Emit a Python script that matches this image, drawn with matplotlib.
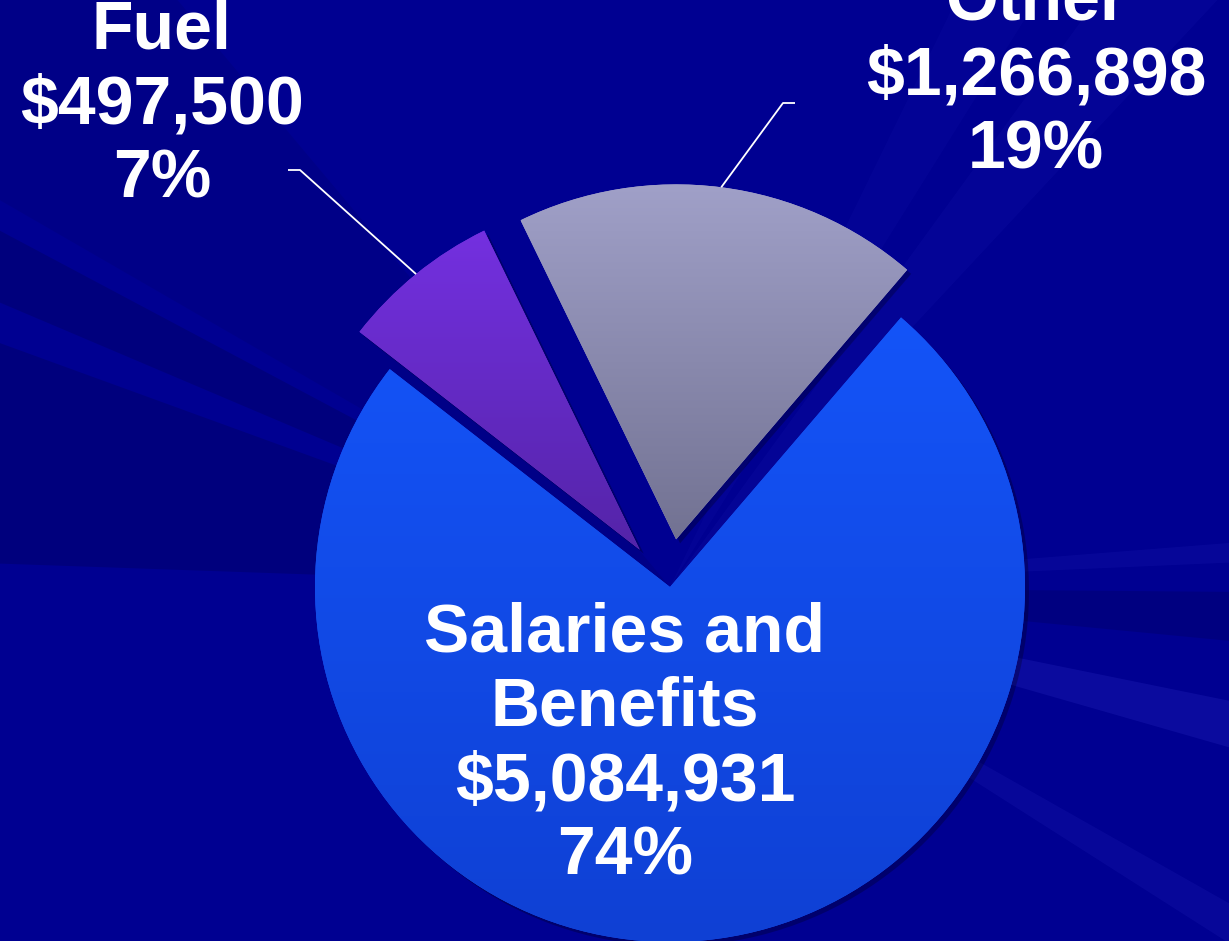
import numpy as np
import matplotlib.pyplot as plt
from matplotlib.patches import Wedge
from matplotlib.colors import LinearSegmentedColormap

W, H = 1229, 941

# budget breakdown (drawn counter-clockwise from the right edge of "Other")
labels = ['Other', 'Fuel', 'Salaries and\nBenefits']
amounts = [1266898, 497500, 5084931]
pcts = [19, 7, 74]
col_top = ['#a0a0c8', '#7430e0', '#1454f8']
col_bot = ['#727292', '#5424a8', '#0f40d4']

BG = '#000091'
cx, cy, R = 670, 354, 355
explode = [48, 48, 0]   # pie() takes the offset in data units here

fig = plt.figure(figsize=(W / 100, H / 100), dpi=100, facecolor=BG)
ax = fig.add_axes([0, 0, 1, 1])
ax.set_facecolor(BG)

# background streaks, faint
streaks = [
    (130, 150, '#000050', 0.15),
    (152, 157, '#000050', 0.30),
    (160, 178, '#000050', 0.30),
    (-5.5, -0.5, '#000050', 0.25),
    (-16, -11.5, '#6060ff', 0.12),
    (2.5, 4.5, '#6060ff', 0.07),
    (-32.5, -29.5, '#6060ff', 0.08),
    (47, 54, '#6060ff', 0.05),
    (58, 64, '#6060ff', 0.04),
]
for t1, t2, c, a in streaks:
    ax.add_patch(Wedge((cx, cy), 2000, t1, t2, color=c, alpha=a, lw=0, zorder=0))

wedges, _ = ax.pie(amounts, explode=explode, startangle=49.4, counterclock=True,
                   center=(cx, cy), radius=R, colors=col_top,
                   wedgeprops=dict(linewidth=0, zorder=3))

grad = np.linspace(0, 1, 256).reshape(-1, 1)
for i, w in enumerate(wedges):
    # soft shadow
    ax.add_patch(Wedge((w.center[0] + 4, w.center[1] - 4), w.r, w.theta1, w.theta2,
                       fc='black', alpha=0.25, lw=0, zorder=2))
    bb = w.get_path().get_extents()
    cmap = LinearSegmentedColormap.from_list('g%d' % i, [col_bot[i], col_top[i]])
    im = ax.imshow(grad, cmap=cmap, extent=[bb.x0, bb.x1, bb.y0, bb.y1],
                   origin='lower', aspect='auto', interpolation='bilinear', zorder=4)
    im.set_clip_path(w)

ax.set_xlim(0, W)
ax.set_ylim(0, H)
ax.axis('off')

font = dict(family='Liberation Sans', weight='bold', size=49, color='white',
            ha='center', va='center', linespacing=1.21, zorder=6)

def fmt(i):
    return '%s\n$%s\n%d%%' % (labels[i], format(amounts[i], ','), pcts[i])

ax.text(162, H - 105, fmt(1), **font)
ax.text(1036, H - 76, fmt(0), **font)
ax.text(625, H - 745, fmt(2), **font)

# leader lines from the outer arc of the exploded slices
for i, elbow, end in [(1, (300, H - 170), (288, H - 170)),
                      (0, (783, H - 103), (795, H - 103))]:
    w = wedges[i]
    mid = np.deg2rad((w.theta1 + w.theta2) / 2)
    tip = (w.center[0] + w.r * np.cos(mid), w.center[1] + w.r * np.sin(mid))
    ax.plot([tip[0], elbow[0], end[0]], [tip[1], elbow[1], end[1]],
            color='white', lw=1.3, zorder=5, solid_capstyle='butt')

fig.savefig('out.png', dpi=100, facecolor=BG)
